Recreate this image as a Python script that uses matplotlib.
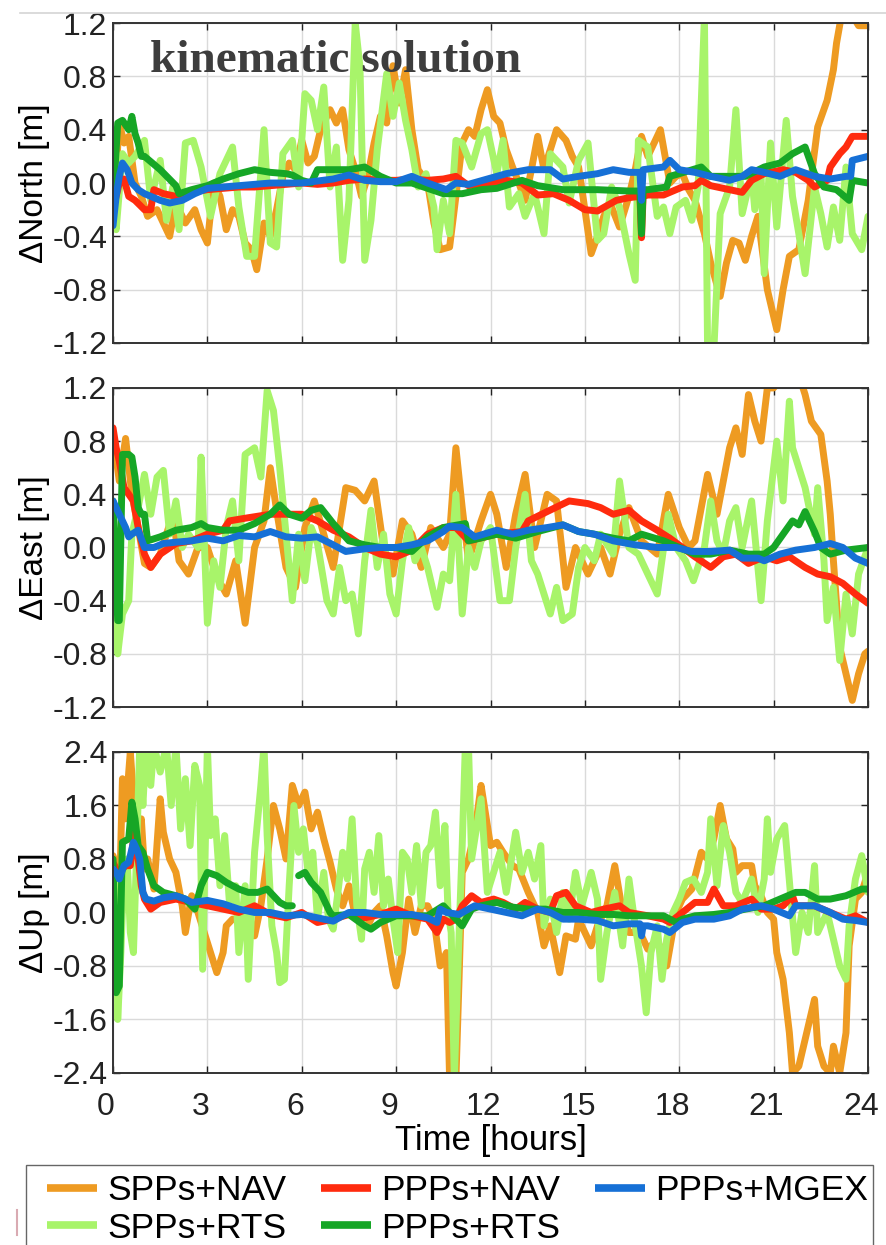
import matplotlib
matplotlib.use('Agg')
import matplotlib.pyplot as plt
import matplotlib.transforms as mtransforms
import numpy as np
from matplotlib.lines import Line2D
from matplotlib.patches import Rectangle

plt.rcParams['font.family'] = ['Liberation Sans', 'DejaVu Sans']

# ---- series names / colours ----
labels = ['SPPs+NAV', 'SPPs+RTS', 'PPPs+NAV', 'PPPs+RTS', 'PPPs+MGEX']
colors = ['#EE9B22', '#A8F46A', '#FF2B0E', '#16A626', '#1670D6']

hour_ticks = [0, 3, 6, 9, 12, 15, 18, 21, 24]

# ---- North ----
t_n_spp_nav = [0.0, 0.1, 0.2, 0.35, 0.5, 0.7, 0.9, 1.1, 1.4, 1.6, 1.8, 2.0, 2.3, 2.6, 2.8, 3.0, 3.2, 3.4, 3.6, 3.8,
               4.0, 4.2, 4.4, 4.57, 4.8, 5.0, 5.2, 5.4, 5.6, 5.8, 6.0, 6.2, 6.4, 6.6, 6.9, 7.1, 7.3, 7.5, 7.7, 7.9,
               8.1, 8.3, 8.5, 8.7, 8.9, 9.1, 9.3, 9.5, 9.7, 10.0, 10.2, 10.4, 10.7, 10.9, 11.1, 11.3, 11.5, 11.7, 11.9, 12.1,
               12.3, 12.5, 12.7, 12.9, 13.1, 13.3, 13.5, 13.7, 13.9, 14.1, 14.4, 14.6, 14.8, 15.0, 15.2, 15.4, 15.6, 15.8, 16.1, 16.4,
               16.6, 16.8, 17.0, 17.2, 17.4, 17.7, 17.9, 18.1, 18.3, 18.5, 18.8, 19.0, 19.3, 19.5, 19.7, 19.9, 20.1, 20.3, 20.5, 20.8,
               21.1, 21.3, 21.5, 21.8, 22.1, 22.4, 22.7, 22.9, 23.0, 23.15, 23.4, 23.7, 24.0]
n_spp_nav = [-0.2, 0.1, 0.45, 0.3, 0.35, 0.0, -0.1, -0.25, -0.2, -0.3, -0.4, -0.15, -0.3, -0.2, -0.35, -0.45, 0.0, -0.1, -0.35, -0.2,
             -0.25, -0.45, -0.5, -0.65, -0.3, -0.4, -0.2, 0.05, 0.15, 0.1, 0.32, 0.15, 0.2, 0.4, 0.55, 0.45, 0.55, 0.25, 0.1, -0.1,
             0.05, 0.3, 0.5, 0.45, 0.88, 0.6, 0.85, 0.4, 0.1, 0.0, -0.3, -0.5, -0.48, -0.1, 0.3, 0.4, 0.35, 0.55, 0.7, 0.5,
             0.45, 0.25, 0.12, 0.0, -0.13, 0.1, 0.35, 0.1, 0.25, 0.4, 0.32, 0.2, 0.12, -0.2, -0.53, -0.4, -0.25, -0.15, -0.33, -0.1,
             0.1, 0.35, 0.2, 0.3, 0.4, 0.0, 0.05, 0.07, -0.05, -0.13, -0.38, -0.6, -0.85, -0.6, -0.43, -0.45, -0.58, -0.4, -0.25, -0.8,
             -1.1, -0.8, -0.55, -0.5, -0.13, 0.42, 0.62, 0.85, 1.05, 1.25, 1.3, 1.18, 1.18]

t_n_spp_rts = [0.0, 0.1, 0.3, 0.5, 0.7, 1.0, 1.2, 1.5, 1.7, 1.9, 2.1, 2.3, 2.55, 2.8, 3.1, 3.4, 3.8, 4.0, 4.25, 4.5,
               4.8, 5.0, 5.2, 5.4, 5.7, 5.9, 6.1, 6.3, 6.5, 6.7, 6.9, 7.1, 7.3, 7.5, 7.7, 7.85, 8.0, 8.2, 8.4, 8.7,
               8.9, 9.1, 9.3, 9.5, 9.7, 9.95, 10.2, 10.3, 10.5, 10.7, 10.9, 11.1, 11.4, 11.7, 11.9, 12.2, 12.4, 12.6, 12.9, 13.1,
               13.4, 13.7, 13.9, 14.3, 14.5, 14.8, 15.1, 15.4, 15.6, 15.85, 16.1, 16.4, 16.6, 16.7, 17.0, 17.3, 17.5, 17.7, 17.9, 18.2,
               18.4, 18.6, 18.8, 18.9, 19.1, 19.3, 19.6, 19.8, 20.0, 20.3, 20.4, 20.6, 20.7, 20.9, 21.1, 21.4, 21.6, 21.8, 22.0, 22.3,
               22.5, 22.7, 22.9, 23.1, 23.3, 23.5, 23.8, 24.0]
n_spp_rts = [-0.2, -0.35, 0.22, 0.15, 0.2, 0.32, -0.13, 0.17, -0.28, -0.03, -0.35, 0.3, 0.32, 0.12, -0.25, 0.07, 0.27, -0.18, -0.55, -0.55,
             0.4, -0.45, -0.48, 0.22, 0.32, -0.03, 0.67, 0.62, 0.4, 0.72, -0.03, 0.27, -0.58, -0.13, 1.2, 0.87, -0.58, -0.28, 0.25, 0.82,
             0.5, 0.75, 0.47, 0.25, -0.03, 0.07, -0.18, -0.5, -0.13, -0.38, 0.32, 0.3, 0.12, 0.37, 0.4, 0.07, 0.32, -0.18, -0.08, -0.25,
             -0.08, -0.38, 0.22, 0.12, -0.15, 0.17, 0.3, -0.43, -0.38, -0.03, -0.18, -0.53, -0.73, 0.32, 0.27, -0.25, -0.18, -0.38, -0.18, -0.13,
             -0.28, -0.03, 1.25, -1.25, -1.25, -0.23, -0.03, 0.55, -0.23, 0.07, -0.2, 0.07, -0.68, 0.3, -0.33, 0.47, -0.1, -0.38, -0.68, -0.03,
             -0.23, -0.48, -0.18, -0.43, 0.12, -0.38, -0.5, -0.25]

t_n_ppp_nav = [0.0, 0.2, 0.35, 0.5, 0.7, 1.0, 1.2, 1.3, 1.6, 2.0, 2.5, 3.0, 3.5, 4.0, 4.5, 5.0, 5.5, 6.0, 6.5, 7.0,
               7.5, 8.0, 8.5, 9.0, 9.5, 10.0, 10.5, 10.9, 11.3, 12.0, 12.5, 13.0, 13.5, 14.0, 14.5, 15.0, 15.4, 16.0, 16.4, 16.75,
               16.8, 16.85, 17.0, 17.5, 18.1, 18.5, 18.7, 19.0, 19.6, 20.0, 20.3, 20.7, 21.3, 21.7, 22.1, 22.3, 22.7, 22.8, 23.1, 23.3,
               23.5, 24.0]
n_ppp_nav = [-0.2, 0.0, 0.03, -0.1, -0.13, -0.2, -0.2, -0.05, -0.08, -0.1, -0.07, -0.05, -0.04, -0.03, -0.03, -0.02, -0.01, 0.0, -0.01, 0.0,
             0.02, 0.03, 0.02, 0.02, 0.03, 0.02, 0.03, 0.05, -0.02, 0.0, 0.02, 0.0, -0.09, -0.08, -0.13, -0.2, -0.21, -0.13, -0.11, -0.1,
             -0.41, -0.1, -0.09, -0.09, -0.03, -0.02, 0.02, -0.02, -0.05, -0.07, 0.02, 0.07, 0.1, 0.08, 0.02, -0.03, 0.02, 0.12, 0.22, 0.27,
             0.35, 0.35]

t_n_ppp_rts = [0.0, 0.15, 0.3, 0.5, 0.6, 0.7, 0.8, 0.9, 1.0, 1.5, 2.0, 2.1, 2.5, 3.0, 3.5, 4.0, 4.5, 5.0, 5.5, 5.7,
               6.0, 6.3, 6.5, 7.0, 7.5, 8.0, 8.5, 9.0, 9.5, 10.0, 10.5, 11.1, 11.7, 12.2, 13.0, 13.5, 14.3, 15.4, 16.4, 16.75,
               16.8, 16.85, 17.0, 17.6, 17.7, 18.0, 18.7, 19.0, 19.6, 20.1, 20.7, 21.2, 21.6, 22.0, 22.3, 22.6, 23.0, 23.4, 23.5, 24.0]
n_ppp_rts = [-0.15, 0.45, 0.47, 0.4, 0.5, 0.37, 0.3, 0.2, 0.2, 0.1, -0.02, -0.08, -0.05, -0.02, 0.03, 0.07, 0.1, 0.08, 0.07, 0.06,
             0.02, 0.0, 0.1, 0.1, 0.1, 0.12, 0.05, 0.0, 0.0, -0.04, -0.08, -0.08, -0.05, -0.04, 0.02, -0.02, -0.05, -0.05, -0.06, -0.06,
             -0.38, -0.05, -0.05, -0.03, 0.05, 0.07, 0.12, 0.05, 0.05, 0.05, 0.12, 0.15, 0.22, 0.27, 0.07, -0.03, -0.05, -0.13, 0.02, 0.0]

t_n_ppp_mgex = [0.0, 0.1, 0.2, 0.3, 0.45, 0.6, 0.8, 1.0, 1.5, 1.8, 2.2, 2.6, 3.0, 3.5, 4.0, 4.5, 5.0, 6.0, 7.0, 7.5,
                8.0, 8.5, 9.0, 9.5, 10.0, 10.6, 10.9, 11.3, 11.9, 12.5, 13.2, 13.9, 14.3, 14.8, 15.4, 15.9, 16.4, 16.75, 16.8, 16.85,
                17.5, 17.7, 18.0, 18.5, 19.0, 19.6, 20.0, 20.3, 20.7, 21.2, 21.7, 22.3, 22.8, 23.3, 23.45, 23.5, 24.0]
n_ppp_mgex = [-0.32, -0.1, 0.05, 0.15, 0.1, 0.0, -0.05, -0.08, -0.13, -0.15, -0.13, -0.08, -0.04, -0.03, -0.02, -0.01, 0.0, 0.0, 0.03, 0.06,
              0.02, 0.01, 0.01, 0.05, 0.0, -0.05, 0.0, -0.01, 0.03, 0.07, 0.1, 0.1, 0.03, 0.05, 0.07, 0.1, 0.08, 0.08, -0.13, 0.1,
              0.12, 0.17, 0.1, 0.08, 0.05, 0.02, 0.05, 0.1, 0.08, 0.05, 0.1, 0.05, 0.03, 0.05, 0.05, 0.17, 0.2]

# ---- East ----
t_e_spp_nav = [0.0, 0.2, 0.4, 0.6, 0.8, 1.0, 1.2, 1.5, 1.7, 1.9, 2.1, 2.4, 2.7, 3.0, 3.3, 3.6, 3.9, 4.2, 4.5, 4.8,
               5.0, 5.2, 5.5, 5.8, 6.1, 6.4, 6.7, 7.0, 7.4, 7.7, 8.0, 8.3, 8.6, 8.9, 9.2, 9.5, 9.8, 10.1, 10.5, 10.7,
               10.9, 11.1, 11.3, 11.7, 12.0, 12.2, 12.5, 12.8, 13.1, 13.4, 13.8, 14.1, 14.4, 14.7, 15.1, 15.5, 15.8, 16.1, 16.4, 16.8,
               17.3, 17.65, 18.0, 18.3, 18.5, 18.9, 19.2, 19.4, 19.6, 19.8, 20.0, 20.2, 20.4, 20.6, 20.8, 21.0, 21.3, 21.8, 22.0, 22.2,
               22.5, 22.7, 22.8, 22.9, 23.1, 23.3, 23.5, 23.7, 23.9, 24.0]
e_spp_nav = [0.85, 0.5, 0.82, 0.4, 0.15, -0.12, -0.15, -0.05, 0.1, 0.25, -0.1, -0.2, 0.0, 0.0, -0.22, -0.35, -0.1, -0.57, 0.0, 0.2,
             0.6, 0.28, -0.15, -0.3, 0.15, 0.35, 0.1, -0.15, 0.45, 0.43, 0.35, 0.5, 0.0, -0.2, 0.2, 0.1, -0.15, 0.15, 0.0, 0.1,
             0.75, 0.3, -0.1, 0.2, 0.4, 0.25, -0.15, 0.25, 0.55, 0.0, 0.4, 0.35, -0.3, 0.0, -0.2, 0.0, -0.2, 0.1, 0.3, 0.05,
             -0.05, 0.4, 0.15, 0.0, 0.05, 0.55, 0.25, 0.5, 0.75, 0.9, 0.7, 1.15, 0.95, 0.8, 1.2, 1.2, 1.3, 1.3, 1.15, 0.95,
             0.85, 0.5, 0.25, -0.1, -0.75, -0.95, -1.15, -0.95, -0.8, -0.78]

t_e_spp_rts = [0.0, 0.15, 0.3, 0.5, 0.6, 0.8, 1.0, 1.2, 1.4, 1.6, 1.8, 2.0, 2.2, 2.4, 2.7, 2.8, 3.0, 3.2, 3.4, 3.6,
               3.8, 4.0, 4.2, 4.5, 4.7, 4.9, 5.1, 5.3, 5.5, 5.7, 5.9, 6.1, 6.3, 6.5, 6.8, 7.0, 7.2, 7.4, 7.6, 7.8,
               8.0, 8.2, 8.4, 8.6, 8.8, 9.0, 9.2, 9.4, 9.6, 9.8, 10.0, 10.3, 10.5, 10.7, 10.9, 11.1, 11.3, 11.5, 11.7, 12.0,
               12.3, 12.6, 12.8, 13.1, 13.3, 13.5, 13.9, 14.1, 14.3, 14.6, 14.8, 15.0, 15.3, 15.5, 15.9, 16.1, 16.4, 16.7, 17.0, 17.3,
               17.65, 17.9, 18.2, 18.45, 18.8, 19.0, 19.2, 19.4, 19.6, 19.8, 20.0, 20.3, 20.6, 20.8, 21.1, 21.3, 21.5, 21.6, 21.8, 22.0,
               22.3, 22.4, 22.6, 22.7, 22.9, 23.1, 23.3, 23.5, 23.7, 24.0]
e_spp_rts = [0.3, -0.8, -0.5, -0.4, 0.1, 0.3, 0.55, 0.25, 0.53, 0.58, 0.1, 0.35, 0.0, 0.1, 0.0, 0.68, -0.57, -0.1, -0.3, 0.15,
             0.35, -0.1, 0.7, 0.75, 0.53, 1.18, 1.03, 0.6, 0.1, -0.4, 0.1, -0.25, 0.15, 0.03, -0.4, -0.5, -0.15, -0.4, -0.35, -0.65,
             -0.1, 0.28, -0.15, 0.1, -0.35, -0.5, -0.1, 0.15, -0.1, 0.0, -0.15, -0.45, -0.2, -0.25, 0.4, -0.5, 0.0, -0.15, 0.05, 0.15,
             -0.4, -0.4, 0.0, 0.4, -0.1, -0.2, -0.5, -0.3, -0.55, -0.5, -0.15, 0.0, -0.1, 0.1, -0.05, 0.5, 0.0, -0.05, -0.2, -0.35,
             0.25, 0.0, -0.1, -0.25, 0.0, 0.35, 0.05, -0.05, 0.2, 0.3, 0.0, 0.35, -0.4, 0.2, 0.8, 0.35, 1.1, 0.75, 0.6, 0.45,
             0.1, 0.45, -0.1, -0.55, -0.3, -0.85, -0.35, -0.65, -0.2, 0.0]

t_e_ppp_nav = [0.0, 0.1, 0.2, 0.35, 0.5, 0.65, 0.8, 1.0, 1.2, 1.5, 2.0, 2.5, 3.0, 3.5, 3.7, 4.2, 5.0, 5.5, 6.0, 6.5,
               7.0, 7.5, 8.0, 8.5, 9.0, 9.5, 10.0, 10.5, 10.9, 11.3, 12.2, 13.0, 13.2, 13.8, 14.5, 15.1, 15.5, 15.9, 16.4, 16.8,
               17.3, 17.7, 18.1, 18.5, 19.0, 19.4, 19.8, 20.2, 20.7, 21.1, 21.5, 22.0, 22.4, 22.8, 23.2, 23.6, 24.0]
e_ppp_nav = [0.9, 0.75, 0.65, 0.45, 0.4, 0.35, 0.15, -0.05, -0.15, -0.05, 0.03, 0.05, 0.1, 0.13, 0.2, 0.22, 0.25, 0.25, 0.25, 0.2,
             0.13, 0.08, 0.0, -0.05, -0.07, -0.02, 0.1, 0.15, 0.15, 0.05, 0.1, 0.12, 0.2, 0.27, 0.35, 0.33, 0.3, 0.25, 0.28, 0.2,
             0.13, 0.07, 0.0, -0.07, -0.15, -0.07, -0.05, -0.12, -0.07, -0.1, -0.07, -0.15, -0.2, -0.22, -0.27, -0.35, -0.42]

t_e_ppp_rts = [0.0, 0.15, 0.2, 0.3, 0.5, 0.6, 0.7, 0.8, 0.9, 1.0, 1.1, 1.5, 2.0, 2.5, 2.8, 3.0, 3.5, 4.0, 4.5, 5.0,
               5.3, 5.6, 6.0, 6.3, 6.6, 7.0, 7.5, 8.0, 8.5, 9.0, 9.5, 10.0, 10.5, 11.2, 11.3, 12.2, 12.8, 13.5, 14.3, 14.8,
               15.3, 15.9, 16.4, 16.8, 17.5, 18.0, 18.5, 19.0, 19.6, 20.2, 20.7, 21.0, 21.3, 21.6, 21.8, 22.0, 22.3, 22.5, 22.8, 23.3,
               24.0]
e_ppp_rts = [0.35, -0.55, -0.55, 0.7, 0.7, 0.68, 0.53, 0.3, 0.25, 0.25, 0.05, 0.08, 0.13, 0.15, 0.18, 0.15, 0.13, 0.13, 0.18, 0.25,
             0.32, 0.25, 0.22, 0.28, 0.3, 0.18, 0.05, 0.02, 0.0, 0.0, -0.03, 0.08, 0.15, 0.18, 0.05, 0.1, 0.07, 0.12, 0.17, 0.12,
             0.1, 0.07, 0.05, 0.1, 0.05, 0.0, -0.05, -0.05, -0.02, -0.05, -0.05, 0.0, 0.1, 0.2, 0.17, 0.27, 0.12, 0.0, -0.05, -0.02,
             0.0]

t_e_ppp_mgex = [0.0, 0.2, 0.4, 0.5, 0.6, 0.8, 1.0, 1.3, 1.6, 2.0, 2.5, 3.0, 3.5, 4.0, 4.5, 5.0, 5.5, 6.0, 6.5, 7.0,
                7.4, 8.0, 8.5, 9.0, 9.5, 10.0, 10.5, 10.7, 11.1, 11.5, 12.2, 12.7, 13.2, 13.8, 14.3, 14.8, 15.3, 15.9, 16.6, 17.3,
                17.9, 18.4, 19.0, 19.6, 20.0, 20.5, 20.7, 21.2, 21.7, 22.3, 22.8, 23.2, 23.6, 24.0]
e_ppp_mgex = [0.35, 0.25, 0.15, 0.08, 0.1, 0.13, 0.0, 0.0, 0.03, 0.04, 0.05, 0.07, 0.05, 0.09, 0.08, 0.12, 0.08, 0.07, 0.08, 0.02,
              -0.03, -0.01, 0.0, 0.0, 0.02, 0.05, 0.12, 0.16, 0.15, 0.08, 0.13, 0.1, 0.13, 0.15, 0.17, 0.12, 0.1, 0.05, 0.02, 0.0,
              0.0, -0.03, -0.03, -0.02, -0.08, -0.08, -0.1, -0.05, -0.02, 0.0, 0.03, 0.0, -0.08, -0.12]

# ---- Up ----
t_u_spp_nav = [0.0, 0.1, 0.2, 0.3, 0.4, 0.5, 0.55, 0.7, 0.8, 0.9, 1.0, 1.1, 1.3, 1.5, 1.6, 1.8, 2.0, 2.2, 2.3, 2.5,
               2.7, 2.9, 3.1, 3.3, 3.5, 3.6, 3.8, 4.0, 4.2, 4.5, 4.7, 4.9, 5.1, 5.3, 5.5, 5.7, 5.9, 6.1, 6.3, 6.5,
               6.7, 6.9, 7.1, 7.3, 7.5, 7.7, 7.9, 8.1, 8.3, 8.5, 8.7, 8.9, 9.0, 9.2, 9.4, 9.6, 9.8, 10.0, 10.2, 10.4,
               10.6, 10.7, 10.9, 11.0, 11.1, 11.3, 11.5, 11.7, 11.8, 12.0, 12.2, 12.4, 12.7, 12.9, 13.2, 13.5, 13.7, 13.9, 14.2, 14.4,
               14.7, 14.8, 15.2, 15.4, 15.7, 15.95, 16.2, 16.4, 16.75, 17.0, 17.3, 17.6, 17.9, 18.1, 18.4, 18.7, 18.9, 19.1, 19.3, 19.5,
               19.7, 19.8, 20.0, 20.3, 20.4, 20.6, 20.8, 21.0, 21.1, 21.3, 21.5, 21.6, 21.8, 22.0, 22.3, 22.4, 22.6, 22.8, 22.9, 23.1,
               23.3, 23.4, 23.6, 23.8, 24.0]
u_spp_nav = [0.85, 0.7, 0.1, 2.0, 1.4, 2.1, 2.4, 1.4, 0.7, 1.4, 0.65, 0.8, 0.35, 1.7, 1.2, 0.8, 0.6, 0.1, -0.3, 0.25,
             0.0, -0.3, -0.6, -0.9, -0.6, -0.2, -0.1, -0.1, -0.15, -0.35, 0.1, 0.8, 1.6, 1.25, 0.8, 1.9, 1.6, 1.8, 1.25, 1.5,
             1.1, 0.75, 0.35, 0.1, 0.4, -0.05, 0.1, -0.2, 0.0, 0.1, -0.35, -0.9, -1.1, -0.6, 0.2, -0.3, 0.1, 0.1, -0.1, -0.8,
             -0.6, -2.5, -2.5, -1.0, 0.6, 0.8, 1.2, 1.9, 1.6, 1.0, 1.05, 0.9, 0.7, 0.65, 0.3, 0.0, -0.5, -0.2, -0.9, -0.35,
             -0.4, -0.1, -0.5, -0.2, 0.1, 0.7, 0.0, -0.3, -0.3, -0.55, -0.4, -0.8, 0.0, 0.2, 0.35, 0.9, 0.8, 1.1, 1.6, 1.1,
             0.95, 0.6, 0.7, 0.7, 0.4, 0.25, 0.0, -0.1, -0.6, -1.0, -1.8, -2.4, -2.3, -1.9, -1.3, -2.0, -2.3, -2.4, -2.0, -2.4,
             -1.8, -0.5, 0.2, 0.3, 0.6]

t_u_spp_rts = [0.0, 0.1, 0.15, 0.25, 0.35, 0.45, 0.55, 0.65, 0.75, 0.85, 0.95, 1.05, 1.2, 1.3, 1.5, 1.7, 1.85, 2.0, 2.15, 2.3,
               2.45, 2.6, 2.75, 2.85, 3.0, 3.1, 3.25, 3.4, 3.55, 3.7, 3.9, 4.0, 4.2, 4.3, 4.5, 4.7, 4.8, 4.9, 5.05, 5.2,
               5.3, 5.45, 5.6, 5.75, 5.9, 6.05, 6.2, 6.35, 6.5, 6.7, 6.85, 7.0, 7.15, 7.3, 7.45, 7.6, 7.75, 7.9, 8.0, 8.15,
               8.3, 8.45, 8.6, 8.75, 8.9, 9.05, 9.2, 9.35, 9.5, 9.65, 9.8, 9.95, 10.1, 10.25, 10.4, 10.55, 10.65, 10.75, 10.85, 10.95,
               11.1, 11.2, 11.3, 11.4, 11.7, 11.9, 12.1, 12.3, 12.5, 12.8, 13.0, 13.2, 13.4, 13.6, 13.7, 13.9, 14.1, 14.3, 14.5, 14.7,
               14.9, 15.2, 15.4, 15.5, 15.7, 15.95, 16.2, 16.4, 16.6, 16.8, 16.95, 17.1, 17.3, 17.45, 17.6, 17.8, 18.0, 18.2, 18.45, 18.7,
               18.9, 19.0, 19.2, 19.4, 19.6, 19.8, 20.0, 20.3, 20.5, 20.7, 20.8, 20.9, 21.1, 21.35, 21.55, 21.7, 21.9, 22.1, 22.3, 22.4,
               22.7, 22.9, 23.1, 23.3, 23.4, 23.6, 23.8, 24.0]
u_spp_rts = [0.75, 0.4, -1.6, -0.6, 0.7, 0.8, -0.3, -0.6, 0.9, 2.5, 1.6, 2.5, 1.9, 2.5, 2.1, 2.5, 1.6, 2.5, 1.25, 2.0,
             1.0, 2.2, 1.9, -0.85, 2.5, 1.15, 1.4, 0.4, 1.15, 0.15, 0.4, -0.6, 0.4, -1.0, 0.9, 1.9, 2.5, 1.15, -0.2, -0.6,
             -1.05, -1.0, 0.4, 1.6, 0.9, 1.25, 0.6, 0.9, -0.1, 0.6, -0.1, -0.25, 0.3, 0.9, 0.5, 1.4, 0.1, -0.4, 0.65, 0.9,
             0.3, 1.15, 0.1, 0.5, -0.1, -0.6, 0.9, 0.8, 0.3, 1.0, 0.1, 0.9, 1.0, 1.5, 0.4, 1.3, 0.0, -0.3, -2.5, -1.0,
             1.0, 2.5, 2.5, 0.8, 1.7, 0.3, 0.6, 0.9, 0.3, 1.2, 0.6, 0.9, 0.5, 1.0, -0.2, 0.2, -0.3, 0.3, -0.1, 0.6,
             0.1, 0.6, 0.2, -1.0, -0.3, 0.3, -0.5, 0.5, -0.2, -0.8, -1.5, -0.6, -0.2, -1.0, -0.4, 0.0, 0.2, 0.45, 0.5, 0.3,
             0.6, 1.4, 0.4, 1.3, 0.9, 0.3, 0.15, 0.5, 0.0, 0.5, 1.4, 0.6, 1.1, 1.3, 0.2, -0.6, 0.0, -0.3, 0.7, -0.3,
             0.0, -0.4, -0.8, -1.0, -0.2, 0.5, 0.85, 0.3]

t_u_ppp_nav = [0.0, 0.1, 0.2, 0.4, 0.55, 0.7, 0.8, 0.9, 1.0, 1.2, 1.5, 2.0, 2.5, 3.0, 3.5, 4.0, 4.5, 5.0, 5.5, 6.0,
               6.5, 7.0, 7.5, 8.0, 8.5, 9.0, 9.5, 10.0, 10.3, 10.5, 10.7, 10.9, 11.1, 11.4, 11.7, 12.1, 12.4, 12.8, 13.1, 13.5,
               13.9, 14.1, 14.4, 14.7, 15.2, 15.6, 16.1, 16.4, 17.0, 17.5, 17.7, 18.1, 18.5, 18.9, 19.1, 19.4, 19.8, 20.3, 20.6, 21.0,
               21.3, 21.6, 21.7, 22.3, 22.8, 23.3, 23.6, 24.0]
u_ppp_nav = [0.75, 0.65, 0.6, 0.7, 0.7, 1.3, 0.8, 0.4, 0.2, 0.05, 0.15, 0.2, 0.15, 0.1, 0.05, 0.0, 0.1, -0.03, -0.08, 0.0,
             -0.15, -0.1, -0.03, -0.08, -0.03, 0.05, -0.05, -0.1, -0.3, -0.1, -0.15, -0.1, 0.1, 0.25, 0.15, 0.2, 0.15, 0.05, 0.15, 0.05,
             0.0, 0.25, 0.3, 0.1, 0.0, 0.05, 0.1, 0.0, -0.05, -0.1, -0.15, 0.0, 0.15, 0.15, 0.35, 0.1, 0.1, 0.2, 0.05, 0.05,
             0.1, 0.25, 0.1, 0.1, 0.0, -0.1, -0.05, -0.15]

# nan marks the short data gap of the PPPs+RTS Up series
t_u_ppp_rts = [0.0, 0.1, 0.2, 0.3, 0.5, 0.6, 0.7, 0.8, 0.95, 1.1, 1.3, 1.6, 2.0, 2.3, 2.6, 2.8, 3.0, 3.3, 3.6, 4.0,
               4.3, 4.6, 4.9, 5.1, 5.3, 5.5, 5.7, 5.8, 5.9, 6.1, 6.3, 6.6, 6.9, 7.0, 7.5, 8.0, 8.2, 8.5, 9.0, 9.5,
               10.0, 10.5, 10.8, 11.1, 11.4, 11.7, 12.2, 12.7, 13.2, 13.75, 14.3, 14.8, 15.4, 15.9, 16.4, 17.0, 17.5, 17.7, 17.9, 18.1,
               18.5, 19.1, 19.6, 20.1, 20.7, 21.2, 21.7, 22.0, 22.4, 22.8, 23.3, 23.8, 24.0]
u_ppp_rts = [0.8, -1.2, -1.1, 1.05, 1.1, 1.65, 1.4, 1.0, 0.9, 0.65, 0.4, 0.3, 0.25, 0.2, 0.05, 0.4, 0.6, 0.55, 0.45, 0.35,
             0.3, 0.3, 0.35, 0.25, 0.15, 0.1, 0.1, np.nan, 0.55, 0.6, 0.45, 0.3, 0.0, -0.05, -0.03, -0.2, -0.25, -0.15, -0.05, -0.05,
             -0.05, 0.1, -0.05, -0.2, 0.05, 0.1, 0.15, 0.08, 0.05, 0.05, 0.0, 0.0, -0.03, -0.03, -0.05, -0.05, -0.05, -0.1, -0.15, -0.1,
             -0.05, -0.03, 0.0, 0.05, 0.1, 0.2, 0.3, 0.3, 0.2, 0.2, 0.25, 0.35, 0.35]

t_u_ppp_mgex = [0.0, 0.1, 0.2, 0.35, 0.5, 0.65, 0.75, 0.85, 0.95, 1.05, 1.3, 1.6, 2.0, 2.3, 2.5, 3.0, 3.5, 4.0, 4.5, 5.0,
                5.5, 6.0, 6.5, 7.0, 7.3, 7.5, 8.0, 8.5, 9.0, 9.5, 10.0, 10.3, 10.4, 10.6, 11.0, 11.3, 11.5, 12.0, 12.5, 13.0,
                13.5, 13.9, 14.3, 14.8, 15.4, 15.9, 16.4, 16.75, 16.8, 16.85, 17.0, 17.5, 17.7, 18.1, 18.5, 19.1, 19.6, 20.0, 20.6, 21.0,
                21.5, 21.7, 22.3, 22.8, 23.2, 23.6, 24.0]
u_ppp_mgex = [0.65, 0.6, 0.5, 0.7, 0.75, 1.05, 0.95, 0.8, 0.3, 0.2, 0.17, 0.22, 0.25, 0.2, 0.15, 0.18, 0.13, 0.05, 0.0, 0.0,
              -0.05, -0.03, -0.08, -0.13, -0.05, 0.0, 0.0, -0.03, -0.03, -0.03, -0.08, -0.15, 0.05, 0.0, -0.03, 0.05, 0.1, 0.05, 0.0, -0.05,
              0.05, 0.0, -0.1, -0.1, -0.12, -0.2, -0.17, -0.17, -0.35, -0.2, -0.2, -0.25, -0.3, -0.15, -0.1, -0.1, -0.05, 0.05, 0.1, 0.05,
              -0.05, 0.1, 0.1, 0.0, -0.1, -0.12, -0.15]

panels = [
    ('\u0394North [m]', 1.2, [0.4 * k for k in range(-3, 4)],
     [(t_n_spp_nav, n_spp_nav), (t_n_spp_rts, n_spp_rts), (t_n_ppp_nav, n_ppp_nav),
      (t_n_ppp_rts, n_ppp_rts), (t_n_ppp_mgex, n_ppp_mgex)]),
    ('\u0394East [m]', 1.2, [0.4 * k for k in range(-3, 4)],
     [(t_e_spp_nav, e_spp_nav), (t_e_spp_rts, e_spp_rts), (t_e_ppp_nav, e_ppp_nav),
      (t_e_ppp_rts, e_ppp_rts), (t_e_ppp_mgex, e_ppp_mgex)]),
    ('\u0394Up [m]', 2.4, [0.8 * k for k in range(-3, 4)],
     [(t_u_spp_nav, u_spp_nav), (t_u_spp_rts, u_spp_rts), (t_u_ppp_nav, u_ppp_nav),
      (t_u_ppp_rts, u_ppp_rts), (t_u_ppp_mgex, u_ppp_mgex)]),
]

fig = plt.figure(figsize=(8.87, 12.45), dpi=100)
boxes = [[0.1274, 0.7245, 0.8512, 0.257],
         [0.1274, 0.4321, 0.8512, 0.2563],
         [0.1274, 0.1382, 0.8512, 0.2578]]

for i, (ylab, lim, yt, series) in enumerate(panels):
    ax = fig.add_axes(boxes[i])
    for (t, v), c in zip(series, colors):
        ax.plot(t, v, color=c, lw=5, solid_joinstyle='round', solid_capstyle='round')
    ax.set_xlim(0, 24)
    ax.set_ylim(-lim, lim)
    ax.set_xticks(hour_ticks)
    ax.set_yticks(yt)
    ax.set_yticklabels(['%.1f' % y for y in yt])
    ax.grid(True, color='#dadada', lw=1.0)
    ax.set_axisbelow(True)
    ax.tick_params(direction='in', length=5, width=1.0, top=True, right=True,
                   labelsize=23, pad=4, colors='#222222')
    for s in ax.spines.values():
        s.set_color('#333333')
        s.set_linewidth(1.4)
    ax.set_ylabel(ylab, fontsize=24)
    ax.yaxis.set_label_coords(-0.083, 0.5)
    if i < 2:
        ax.tick_params(labelbottom=False)
    else:
        ax.tick_params(axis='x', pad=14)
        # hour labels sit a little left of their ticks in the original
        shift = mtransforms.ScaledTranslation(-0.07, 0, fig.dpi_scale_trans)
        for lab in ax.get_xticklabels():
            lab.set_transform(lab.get_transform() + shift)
        ax.set_xlabel('Time [hours]', fontsize=25, labelpad=1)
    if i == 0:
        ax.text(0.049, 0.847, 'kinematic solution', transform=ax.transAxes,
                fontsize=34, fontweight='bold', family='Liberation Serif',
                color='#3d3d3d', va='baseline', ha='left')

# legend frame runs past the bottom edge of the figure, so it is drawn on its own
fig.add_artist(Rectangle((26 / 887, -0.05), (873 - 26) / 887, 0.05 + 1 - 1165 / 1245,
                         transform=fig.transFigure, fill=False, edgecolor='#666666', lw=1.0))

handles = [Line2D([], [], color=c, lw=5.5, solid_capstyle='butt') for c in colors]
fig.legend(handles, labels, loc='upper left', bbox_to_anchor=(47 / 887, 1 - 1174 / 1245), ncol=3,
           fontsize=25.5, frameon=False,
           handlelength=1.42, handletextpad=0.28, columnspacing=0.98, borderpad=0.0,
           labelspacing=0.13, borderaxespad=0)

# thin frame line along the top edge and small mark at the lower left
fig.add_artist(Line2D([0.0225, 1.0], [0.9896, 0.9896], color='#d4d4d4', lw=1.2))
fig.add_artist(Line2D([0.019, 0.019], [0.008, 0.028], color='#d9aab2', lw=1.5))

fig.savefig('out.png', dpi=100)
